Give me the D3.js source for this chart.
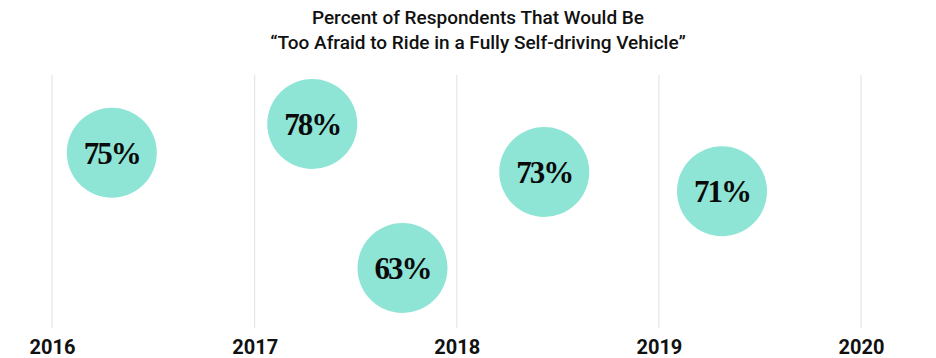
<!DOCTYPE html>
<html><head><meta charset="utf-8">
<script src="https://cdn.jsdelivr.net/npm/d3@7"></script>
<style>body{margin:0;background:#fff}</style>
</head><body>
<svg id="c" width="936" height="358"></svg>
<script>
const titleLines = ["Percent of Respondents That Would Be", "\u201cToo Afraid to Ride in a Fully Self-driving Vehicle\u201d"];
const surveyDates = ["2016-04-18", "2017-04-15", "2017-09-25", "2018-06-08", "2019-04-25"];
const percentValues = [75, 78, 63, 73, 71];
const yearTicks = [2016, 2017, 2018, 2019, 2020];

const svg = d3.select("#c");
const parse = d3.timeParse("%Y-%m-%d");
const x = d3.scaleTime().domain([new Date(2016,0,1), new Date(2020,0,1)]).range([52, 861]);
const y = d3.scaleLinear().domain([63, 78]).range([268, 124]);
const r = 45;

svg.append("g").selectAll("line").data(yearTicks).join("line")
  .attr("x1", d => x(new Date(d,0,1))).attr("x2", d => x(new Date(d,0,1)))
  .attr("y1", 75).attr("y2", 328)
  .attr("stroke", "#e6e6e6").attr("stroke-width", 1.2);

const axis = d3.axisBottom(x).tickValues(yearTicks.map(d => new Date(d,0,1)))
  .tickFormat(d3.timeFormat("%Y")).tickSize(0).tickPadding(0);
const ag = svg.append("g").attr("transform", "translate(0,340)").call(axis);
ag.select(".domain").remove();
ag.selectAll("text").attr("font-family", "Roboto, sans-serif").attr("font-weight", 700)
  .attr("font-size", 20).attr("fill", "#111").attr("dy", "0.71em");

svg.append("g").selectAll("text").data(titleLines).join("text")
  .attr("x", 478).attr("y", (d,i) => 24 + i*25)
  .attr("text-anchor", "middle").attr("font-family", "Roboto, sans-serif")
  .attr("font-weight", 500).attr("font-size", 19).attr("fill", "#111").text(d => d);

const pts = percentValues.map((v,i) => ({v, d: parse(surveyDates[i])}));
const g = svg.append("g");
g.selectAll("circle").data(pts).join("circle")
  .attr("cx", d => x(d.d)).attr("cy", d => y(d.v)).attr("r", r).attr("fill", "#8ee5d6");
g.selectAll("text").data(pts).join("text")
  .attr("x", d => x(d.d)).attr("y", d => y(d.v)).attr("dy", "0.36em")
  .attr("text-anchor", "middle").attr("font-family", "'Liberation Serif', serif")
  .attr("font-weight", 700).attr("font-size", 31).attr("letter-spacing", -2).attr("fill", "#0a0a0a")
  .text(d => d.v + "%");
</script>
</body></html>
